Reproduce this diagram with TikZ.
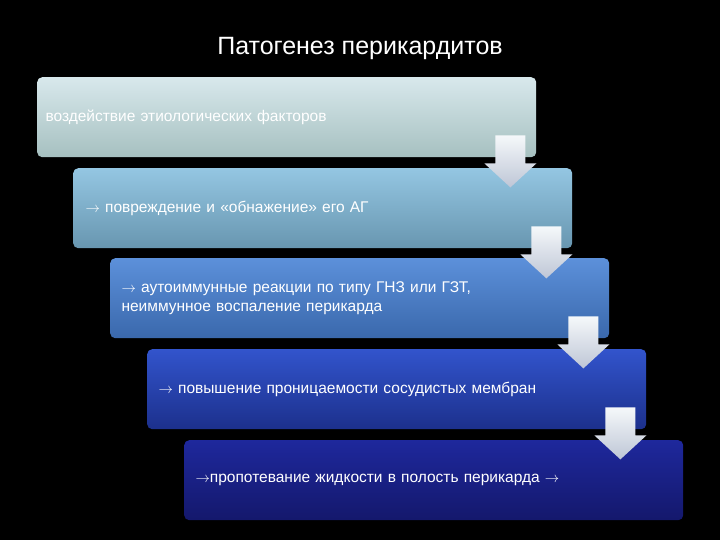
\documentclass[tikz,border=0pt]{standalone}
\usepackage{fontspec}
\setmainfont{Liberation Sans}
\begin{document}
\begin{tikzpicture}[x=1pt,y=-1pt,
 stage/.style={rounded corners=5pt,minimum width=499pt,minimum height=80pt,anchor=north west,inner sep=0pt},
 lbl/.style={anchor=west,text width=400pt,align=left,font=\fontsize{15.5}{19}\selectfont,text=white},
 dn/.style={top color=#1,bottom color=#1}]
\fill[black] (0,0) rectangle (720,540);
\useasboundingbox (0,0) rectangle (720,540);
\node (title) at (360,48) {\fontsize{25}{30}\selectfont\color{white}Патогенез перикардитов};
\node[stage,top color={rgb,255:red,216;green,232;blue,236},bottom color={rgb,255:red,166;green,192;blue,192}] (b1) at (37,77) {};
\node[stage,top color={rgb,255:red,148;green,198;blue,226},bottom color={rgb,255:red,104;green,150;blue,176}] (b2) at (73,168) {};
\node[stage,top color={rgb,255:red,92;green,144;blue,218},bottom color={rgb,255:red,58;green,104;blue,172}] (b3) at (110,258) {};
\node[stage,top color={rgb,255:red,50;green,84;blue,204},bottom color={rgb,255:red,28;green,48;blue,140}] (b4) at (147,349) {};
\node[stage,top color={rgb,255:red,30;green,40;blue,156},bottom color={rgb,255:red,20;green,24;blue,108}] (b5) at (184,440) {};
\node[lbl] (t1) at ([xshift=5pt]b1.west) {воздействие этиологических факторов};
\node[lbl] (t2) at ([xshift=9pt]b2.west) {$\rightarrow$ повреждение и «обнажение» его АГ};
\node[lbl] (t3) at ([xshift=8pt]b3.west) {$\rightarrow$ аутоиммунные реакции по типу ГНЗ или ГЗТ, неиммунное воспаление перикарда};
\node[lbl] (t4) at ([xshift=8pt]b4.west) {$\rightarrow$ повышение проницаемости сосудистых мембран};
\node[lbl] (t5) at ([xshift=8pt]b5.west) {$\rightarrow$пропотевание жидкости в полость перикарда $\rightarrow$};
\foreach \b in {b1,b2,b3,b4}{
  \coordinate (c\b) at ([xshift=-26pt]\b.south east);
  \shade[top color={rgb,255:red,245;green,248;blue,250},bottom color={rgb,255:red,190;green,198;blue,214}]
    ([shift={(-15,-22)}]c\b) -- ([shift={(15,-22)}]c\b) -- ([shift={(15,6)}]c\b) -- ([shift={(26,6)}]c\b)
    -- ([shift={(0,30)}]c\b) -- ([shift={(-26,6)}]c\b) -- ([shift={(-15,6)}]c\b) -- cycle;
}
\end{tikzpicture}
\end{document}
